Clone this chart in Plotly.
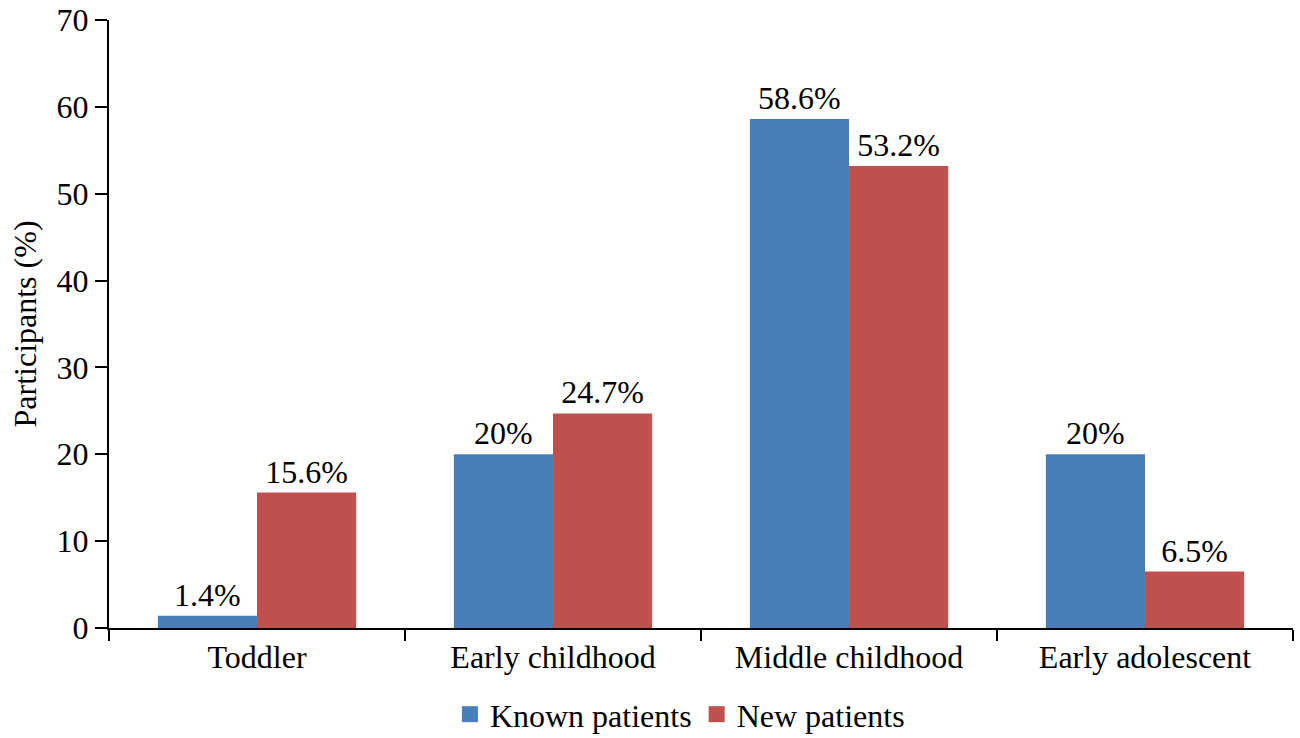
import plotly.graph_objects as go

categories = ["Toddler", "Early childhood", "Middle childhood", "Early adolescent"]
known = [1.4, 20, 58.6, 20]
new = [15.6, 24.7, 53.2, 6.5]
series_names = ["Known patients", "New patients"]
colors = ["#4a7ebb", "#c0504d"]

FONT = "Liberation Serif"
FS = 32

fig = go.Figure()
for name, vals, col in zip(series_names, [known, new], colors):
    fig.add_trace(go.Bar(
        x=categories, y=vals, name=name,
        marker=dict(color=col, line=dict(width=0)),
        text=[f"{v:g}%" for v in vals],
        textposition="outside", cliponaxis=False,
        textfont=dict(family=FONT, size=FS, color="black"),
        showlegend=False,
    ))
    fig.add_trace(go.Scatter(
        x=[None], y=[None], mode="markers", name=name,
        marker=dict(symbol="square", size=24, color=col),
        showlegend=True,
    ))

fig.update_layout(
    width=1300, height=738,
    margin=dict(l=109, r=7, t=20, b=110, autoexpand=False),
    plot_bgcolor="white", paper_bgcolor="white",
    barmode="group", bargap=0.33, bargroupgap=0,
    font=dict(family=FONT, size=FS, color="black"),
    legend=dict(orientation="h", xref="container", x=0.523, xanchor="center",
                yref="container", y=0.032, yanchor="middle",
                font=dict(family=FONT, size=FS), itemwidth=30, tracegroupgap=0),
)
fig.update_xaxes(
    showline=True, linecolor="black", linewidth=2, automargin=False,
    ticks="outside", tickson="boundaries", ticklen=11, tickwidth=2, tickcolor="black",
    showgrid=False, tickfont=dict(family=FONT, size=FS), ticklabeloverflow="allow",
)
fig.update_yaxes(
    range=[0, 70], dtick=10, showline=True, linecolor="black", linewidth=2, automargin=False,
    ticks="outside", ticklen=12, tickwidth=2, tickcolor="black",
    showgrid=False, zeroline=False, tickfont=dict(family=FONT, size=FS),
    ticklabeloverflow="allow",
    title=dict(text="Participants (%)", font=dict(family=FONT, size=FS), standoff=10),
)

fig.write_html("out.html", config={"displayModeBar": False},
               post_script="document.body.style.margin='0';")
